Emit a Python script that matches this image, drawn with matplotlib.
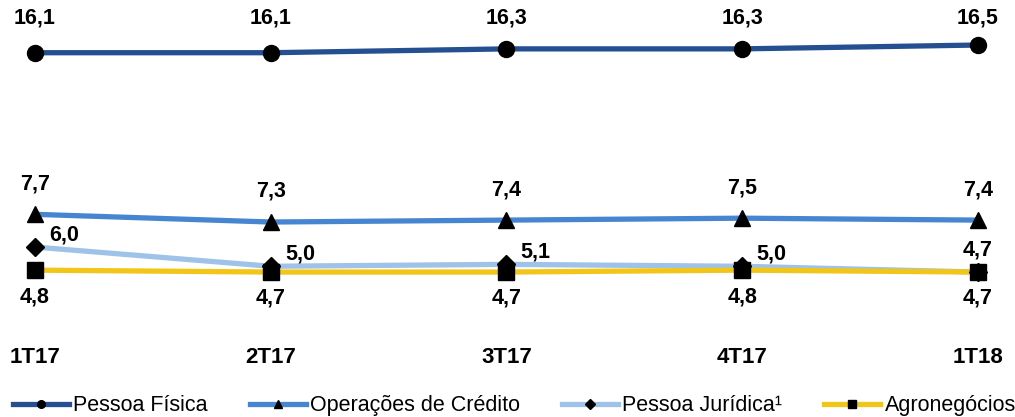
import matplotlib
matplotlib.use("Agg")
from matplotlib import pyplot as plt
from matplotlib.lines import Line2D

plt.rcParams["font.family"] = ["Liberation Sans", "DejaVu Sans"]

quarters = ["1T17", "2T17", "3T17", "4T17", "1T18"]
pessoa_fisica = [16.1, 16.1, 16.3, 16.3, 16.5]
operacoes_credito = [7.7, 7.3, 7.4, 7.5, 7.4]
pessoa_juridica = [6.0, 5.0, 5.1, 5.0, 4.7]
agronegocios = [4.8, 4.7, 4.7, 4.8, 4.7]

series_names = ["Pessoa Física", "Operações de Crédito", "Pessoa Jurídica¹", "Agronegócios"]

colors = ["#245091", "#4686d1", "#9fc2e8", "#f2c618"]
markers = ["o", "^", "D", "s"]
msizes = [11.5, 12, 9.5, 11]

fig = plt.figure(figsize=(10.15, 4.17), dpi=100)
ax = fig.add_axes([0.0345, 0.3153, 0.929, 0.5998])

x = list(range(len(quarters)))
all_series = [pessoa_fisica, operacoes_credito, pessoa_juridica, agronegocios]
for vals, c, m, ms in zip(all_series, colors, markers, msizes):
    ax.plot(x, vals, color=c, lw=3.8, solid_capstyle="butt", zorder=2, clip_on=False)
    ax.plot(x, vals, ls="none", marker=m, ms=ms, color="black", zorder=3, clip_on=False)

lab = dict(fontsize=15.5, fontweight="bold", ha="center", va="center",
           textcoords="offset points", annotation_clip=False)

def fmt(v):
    return f"{v:.1f}".replace(".", ",")

# top series labels sit on one row above the plot area
for i, v in enumerate(pessoa_fisica):
    ax.text(i, 17.9, fmt(v), fontsize=15.5, fontweight="bold", ha="center", va="center")
for i, v in enumerate(operacoes_credito):
    ax.annotate(fmt(v), (i, v), xytext=(0, 22), **lab)
for i, v in enumerate(pessoa_juridica):
    off = (21, 9) if i < len(pessoa_juridica) - 1 else (0, 16)
    ax.annotate(fmt(v), (i, v), xytext=off, **lab)
for i, v in enumerate(agronegocios):
    ax.annotate(fmt(v), (i, v), xytext=(0, -19), **lab)

ax.set_xlim(0, 4)
ax.set_ylim(4.0, 17.0)
ax.axis("off")

# category labels under the plot
for i, q in enumerate(quarters):
    ax.annotate(q, (i, 4.0), xytext=(0, -52), fontsize=16, fontweight="bold",
                ha="center", va="center", textcoords="offset points",
                annotation_clip=False)

handles = [Line2D([], [], color=c, lw=3.8, marker=m, ms=5.5, mfc="black", mec="black")
           for c, m in zip(colors, markers)]
fig.legend(handles, series_names, loc="center", bbox_to_anchor=(0.507, 0.027),
           ncol=4, frameon=False, fontsize=15.5, handlelength=2.6, handletextpad=0.2,
           columnspacing=1.95, borderpad=0, borderaxespad=0)

fig.savefig("out.png", dpi=100)
